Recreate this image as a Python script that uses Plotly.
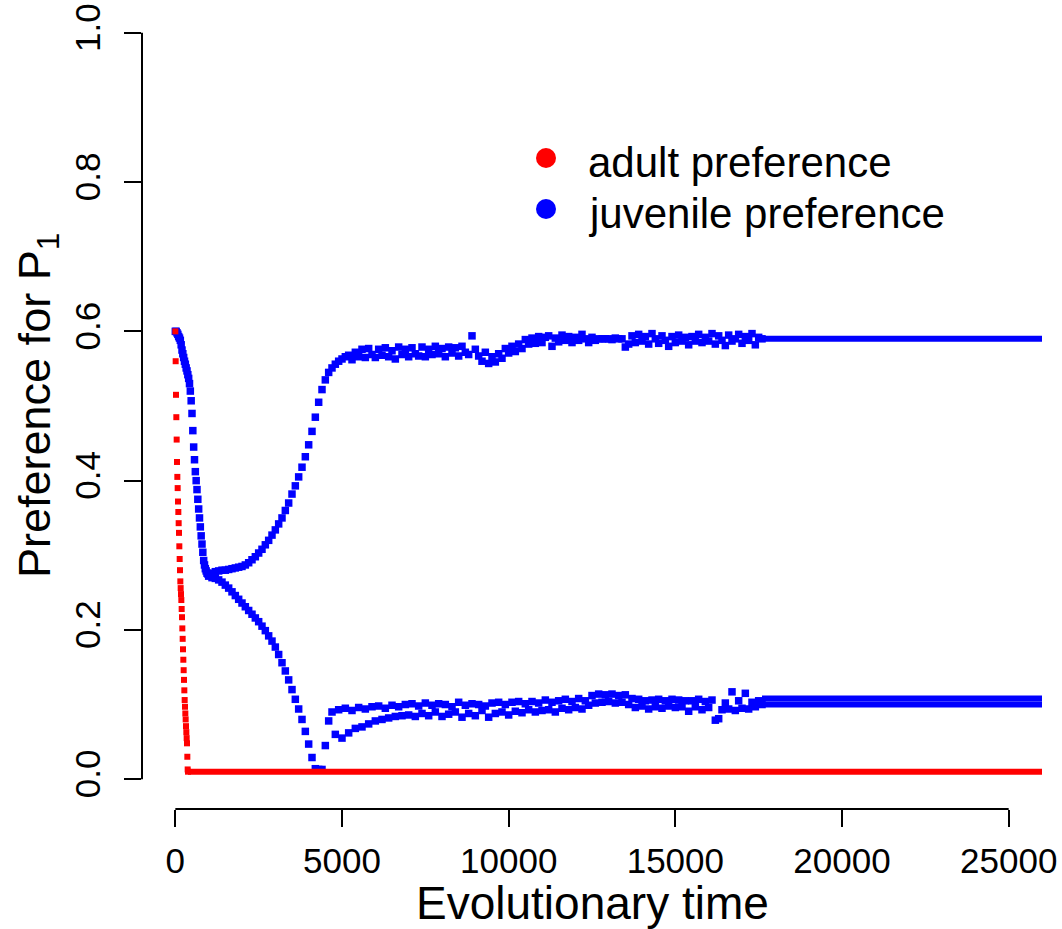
import plotly.graph_objects as go

# ---------------- data ----------------
x_tick_vals = [0, 5000, 10000, 15000, 20000, 25000]
x_tick_text = ["0", "5000", "10000", "15000", "20000", "25000"]
y_tick_vals = [0.0, 0.2, 0.4, 0.6, 0.8, 1.0]
y_tick_text = ["0.0", "0.2", "0.4", "0.6", "0.8", "1.0"]

series_names = ["adult preference", "juvenile preference"]

# adult preference: fast drop then flat
adult_t = [0, 10, 20, 30, 40, 50, 60, 70, 80, 90, 100, 110, 120, 130, 140, 150,
           160, 170, 180, 190, 200, 210, 220, 230, 240, 250, 260, 270, 280, 290,
           300, 310, 320, 330, 340, 350, 360, 370, 380]
adult_v = [0.600, 0.560, 0.515, 0.485, 0.455, 0.425, 0.405, 0.390, 0.372, 0.358,
           0.343, 0.330, 0.312, 0.295, 0.280, 0.265, 0.256, 0.248, 0.240, 0.228,
           0.217, 0.202, 0.188, 0.174, 0.160, 0.146, 0.133, 0.119, 0.106, 0.097,
           0.088, 0.080, 0.071, 0.063, 0.055, 0.048, 0.030, 0.013, 0.010]
adult_flat_t = [380, 26500]
adult_flat_v = [0.010, 0.010]

# juvenile preference before branching
juv_early_t = list(range(0, 1000, 25))
juv_early_v = [0.600, 0.600, 0.598, 0.596, 0.593, 0.591, 0.588, 0.582, 0.575, 0.570,
               0.565, 0.560, 0.556, 0.551, 0.547, 0.542, 0.537, 0.530, 0.520, 0.507,
               0.490, 0.467, 0.445, 0.428, 0.412, 0.400, 0.388, 0.375, 0.362, 0.350,
               0.338, 0.326, 0.315, 0.304, 0.293, 0.287, 0.282, 0.279, 0.276, 0.275]

# sampling times of the two branches
branch_t = list(range(1000, 17700, 100))

juv_up_v = [
    0.275, 0.276, 0.278, 0.279, 0.280, 0.280, 0.281, 0.282, 0.283, 0.284,  # 1000
    0.285, 0.287, 0.290, 0.294, 0.298, 0.303, 0.308, 0.314, 0.320, 0.327,  # 2000
    0.334, 0.342, 0.350, 0.360, 0.370, 0.382, 0.393, 0.405, 0.418, 0.432,  # 3000
    0.448, 0.466, 0.485, 0.505, 0.522, 0.535, 0.545, 0.551, 0.556, 0.560,  # 4000
    0.563, 0.566, 0.568, 0.562, 0.572, 0.566, 0.576, 0.565, 0.577, 0.569,  # 5000
    0.565, 0.576, 0.568, 0.578, 0.566, 0.574, 0.563, 0.579, 0.569, 0.576,  # 6000
    0.566, 0.578, 0.570, 0.567, 0.579, 0.566, 0.576, 0.569, 0.580, 0.570,  # 7000
    0.577, 0.566, 0.579, 0.571, 0.578, 0.567, 0.580, 0.572, 0.569, 0.594,  # 8000
    0.576, 0.567, 0.560, 0.572, 0.557, 0.566, 0.559, 0.570, 0.564, 0.577,  # 9000
    0.571, 0.580, 0.573, 0.583, 0.577, 0.589, 0.583, 0.591, 0.584, 0.593,  # 10000
    0.585, 0.592, 0.594, 0.580, 0.591, 0.586, 0.595, 0.588, 0.593, 0.585,  # 11000
    0.592, 0.588, 0.596, 0.590, 0.585, 0.592, 0.588, 0.590, 0.590, 0.590,  # 12000
    0.590, 0.589, 0.591, 0.590, 0.590, 0.579, 0.583, 0.594, 0.585, 0.596,  # 13000
    0.587, 0.593, 0.583, 0.597, 0.590, 0.584, 0.594, 0.588, 0.580, 0.593,  # 14000
    0.585, 0.595, 0.587, 0.592, 0.582, 0.593, 0.587, 0.596, 0.585, 0.592,  # 15000
    0.587, 0.597, 0.583, 0.594, 0.588, 0.581, 0.595, 0.587, 0.590, 0.596,  # 16000
    0.584, 0.593, 0.588, 0.597, 0.582, 0.592, 0.590,                       # 17000
]

juv_low_v = [
    0.272, 0.270, 0.269, 0.267, 0.264, 0.260, 0.256, 0.251, 0.246, 0.241,  # 1000
    0.236, 0.231, 0.226, 0.221, 0.216, 0.211, 0.205, 0.199, 0.192, 0.185,  # 2000
    0.177, 0.167, 0.156, 0.145, 0.133, 0.120, 0.107, 0.094, 0.080, 0.064,  # 3000
    0.047, 0.029, 0.014, 0.013, 0.013, 0.045, 0.078, 0.090, 0.060, 0.093,  # 4000
    0.055, 0.095, 0.062, 0.092, 0.068, 0.096, 0.070, 0.094, 0.074, 0.097,  # 5000
    0.078, 0.098, 0.080, 0.095, 0.082, 0.099, 0.084, 0.097, 0.085, 0.100,  # 6000
    0.086, 0.101, 0.084, 0.098, 0.088, 0.102, 0.085, 0.099, 0.090, 0.101,  # 7000
    0.084, 0.100, 0.087, 0.097, 0.090, 0.103, 0.083, 0.099, 0.088, 0.101,  # 8000
    0.085, 0.100, 0.092, 0.098, 0.083, 0.102, 0.088, 0.103, 0.090, 0.100,  # 9000
    0.086, 0.103, 0.091, 0.104, 0.089, 0.101, 0.093, 0.104, 0.090, 0.102,  # 10000
    0.092, 0.106, 0.093, 0.103, 0.090, 0.105, 0.095, 0.107, 0.093, 0.104,  # 11000
    0.096, 0.108, 0.094, 0.105, 0.099, 0.112, 0.102, 0.114, 0.103, 0.113,  # 12000
    0.104, 0.114, 0.102, 0.112, 0.103, 0.113, 0.100, 0.108, 0.096, 0.107,  # 13000
    0.098, 0.105, 0.094, 0.106, 0.097, 0.107, 0.095, 0.105, 0.098, 0.107,  # 14000
    0.096, 0.106, 0.097, 0.105, 0.091, 0.105, 0.097, 0.107, 0.093, 0.104,  # 15000
    0.096, 0.106, 0.079, 0.081, 0.093, 0.102, 0.094, 0.117, 0.092, 0.105,  # 16000
    0.095, 0.115, 0.094, 0.103, 0.097, 0.105, 0.100,                       # 17000
]

# settled values after the noisy phase
tail_t = [17600, 26500]
juv_up_tail_v = [0.590, 0.590]
juv_low_tail_a_v = [0.108, 0.108]
juv_low_tail_b_v = [0.100, 0.100]

# ---------------- layout constants ----------------
W, H = 1062, 929
L, R, T, B = 142, 20, 3, 120
PW, PH = W - L - R, H - T - B
RED = "#FF0000"
BLUE = "#0000FF"
FONT = "Liberation Sans, Arial, Helvetica, sans-serif"


def px_x(p):
    return (p - L) / PW


def px_y(p):
    return (T + PH - p) / PH


fig = go.Figure()

mk = dict(symbol="square", size=7.5, line=dict(width=0))

fig.add_trace(go.Scatter(x=juv_early_t, y=juv_early_v, mode="markers",
                         marker=dict(color=BLUE, **mk), showlegend=False))
fig.add_trace(go.Scatter(x=branch_t, y=juv_up_v, mode="markers",
                         marker=dict(color=BLUE, **mk), showlegend=False))
fig.add_trace(go.Scatter(x=branch_t, y=juv_low_v, mode="markers",
                         marker=dict(color=BLUE, **mk), showlegend=False))
for tv in (juv_up_tail_v, juv_low_tail_a_v, juv_low_tail_b_v):
    fig.add_trace(go.Scatter(x=tail_t, y=tv, mode="lines",
                             line=dict(color=BLUE, width=6), showlegend=False))

fig.add_trace(go.Scatter(x=adult_flat_t, y=adult_flat_v, mode="lines",
                         line=dict(color=RED, width=6), showlegend=False))
fig.add_trace(go.Scatter(x=adult_t, y=adult_v, mode="markers",
                         marker=dict(color=RED, symbol="square", size=6, line=dict(width=0)),
                         showlegend=False))

axis_common = dict(showgrid=False, zeroline=False, showline=False,
                   ticks="outside", ticklen=17, tickwidth=2, tickcolor="black",
                   tickfont=dict(family=FONT, size=35, color="black"),
                   automargin=False)

fig.update_xaxes(range=[-1000, 26000], tickvals=x_tick_vals, ticktext=x_tick_text,
                 ticklabelstandoff=4, **axis_common)
fig.update_yaxes(range=[-0.04, 1.04], tickvals=y_tick_vals, ticktext=y_tick_text,
                 tickangle=-90, ticklabelstandoff=10, **axis_common)

shapes = [
    # R-style axis lines spanning only the tick range
    dict(type="line", xref="x", yref="paper", x0=x_tick_vals[0], x1=x_tick_vals[-1],
         y0=0, y1=0, line=dict(color="black", width=2)),
    dict(type="line", xref="paper", yref="y", x0=0, x1=0,
         y0=y_tick_vals[0], y1=y_tick_vals[-1], line=dict(color="black", width=2)),
    # legend dots
    dict(type="circle", xref="paper", yref="paper", x0=px_x(536), x1=px_x(556),
         y0=px_y(168), y1=px_y(148), fillcolor=RED, line=dict(width=0)),
    dict(type="circle", xref="paper", yref="paper", x0=px_x(536), x1=px_x(556),
         y0=px_y(219), y1=px_y(199), fillcolor=BLUE, line=dict(width=0)),
]

annotations = [
    dict(text=series_names[0], xref="paper", yref="paper", x=px_x(586), y=px_y(162),
         xanchor="left", yanchor="middle", showarrow=False,
         font=dict(family=FONT, size=42, color="black")),
    dict(text=series_names[1], xref="paper", yref="paper", x=px_x(586), y=px_y(213),
         xanchor="left", yanchor="middle", showarrow=False,
         font=dict(family=FONT, size=42, color="black")),
    dict(text="Evolutionary time", xref="paper", yref="paper", x=px_x(592), y=px_y(903),
         xanchor="center", yanchor="middle", showarrow=False,
         font=dict(family=FONT, size=46, color="black")),
    dict(text="Preference for P<sub>1</sub>", xref="paper", yref="paper",
         x=px_x(37), y=px_y(406), textangle=-90,
         xanchor="center", yanchor="middle", showarrow=False,
         font=dict(family=FONT, size=45, color="black")),
]

fig.update_layout(width=W, height=H, autosize=False,
                  margin=dict(l=L, r=R, t=T, b=B, pad=0),
                  paper_bgcolor="white", plot_bgcolor="white",
                  template="none", showlegend=False,
                  shapes=shapes, annotations=annotations)

fig.write_html("out.html")
